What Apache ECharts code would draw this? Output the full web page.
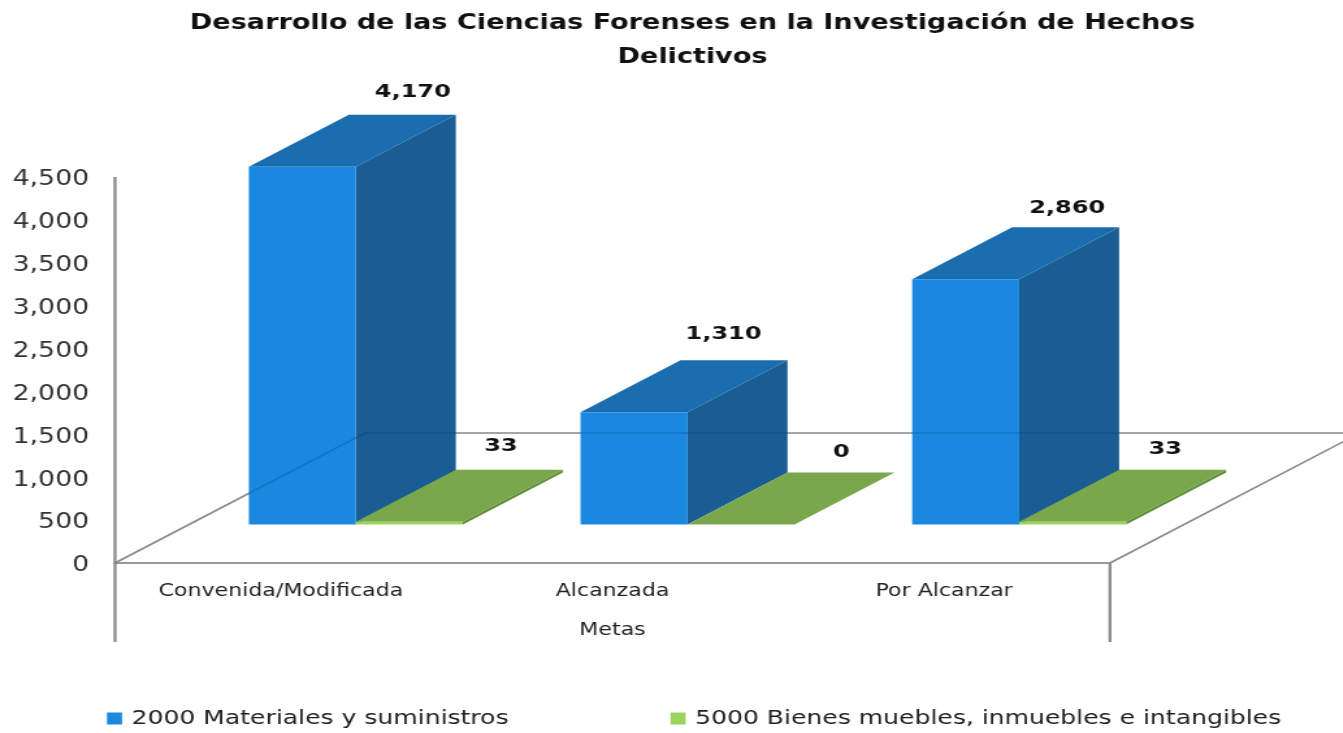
<!DOCTYPE html>
<html><head><meta charset="utf-8">
<style>html,body{margin:0;padding:0;background:#fff;overflow:hidden;width:1343px;height:733px}
#c{height:733px;transform-origin:0 0}</style>
<script src="https://cdn.jsdelivr.net/npm/echarts@6/dist/echarts.min.js"></script>
</head><body><div id="c"></div>
<script>
const categories = ['Convenida/Modificada', 'Alcanzada', 'Por Alcanzar'];
const materiales = [4170, 1310, 2860];
const bienes = [33, 0, 33];
const seriesNames = ['2000 Materiales y suministros', '5000 Bienes muebles, inmuebles e intangibles'];
const yTicks = { min: 0, max: 4500, interval: 500 };
const chartTitle = 'Desarrollo de las Ciencias Forenses en la Investigación de Hechos\nDelictivos';
const xName = 'Metas';

// The reference is a horizontally stretched picture: draw narrow, stretch with CSS.
const K = 1.3;
const X = v => v / K;
const FONT = '"DejaVu Sans"';
const DEPTH_X = X(100), DEPTH_Y = 52, LIFT = 38.5;
const BAR_W = X(107);
const blueNudge = [[57, -23], [36, -26], [48, -19]];
const greenNudge = [[38, -23], [47, -20], [39, -20]];

const el = document.getElementById('c');
el.style.width = X(1343) + 'px';
el.style.transform = 'scaleX(' + K + ')';
const chart = echarts.init(el, null, { renderer: 'canvas' });

function poly(points, fill, stroke) {
  return { type: 'polygon', shape: { points }, style: { fill, stroke: stroke || null, lineWidth: stroke ? 1 : 0 } };
}
function line(x1, y1, x2, y2, stroke, w) {
  return { type: 'line', shape: { x1, y1, x2, y2 }, style: { stroke, lineWidth: w, fill: null } };
}
function bar(params, api, offset, colors, nudge) {
  const i = api.value(0);
  const top = api.coord([i, api.value(1)]);
  const base = api.coord([i, 0]);
  const l = top[0] + X(offset), r = l + BAR_W;
  const yt = top[1] - LIFT, yb = base[1] - LIFT;
  const kids = [];
  kids.push(poly([[r, yt], [r + DEPTH_X, yt - DEPTH_Y], [r + DEPTH_X, yb - DEPTH_Y], [r, yb]], colors.side));
  kids.push(poly([[l, yt], [r, yt], [r + DEPTH_X, yt - DEPTH_Y], [l + DEPTH_X, yt - DEPTH_Y]], colors.top));
  if (yb > yt) kids.push({ type: 'rect', shape: { x: l, y: yt, width: BAR_W, height: yb - yt }, style: { fill: colors.front } });
  const n = nudge[params.dataIndex];
  kids.push({
    type: 'text', x: r + X(n[0]), y: yt - DEPTH_Y + n[1],
    style: { text: api.value(1).toLocaleString('en-US'), fontFamily: FONT, fontWeight: 'bold', fontSize: 18.5, fill: '#111', align: 'center', verticalAlign: 'middle' }
  });
  return { type: 'group', children: kids };
}
function backLines(params, api, color, w) {
  const cs = params.coordSys, o = api.coord([0, 0]);
  const x0 = cs.x, y0 = o[1], x1 = cs.x + cs.width;
  const dx = X(250), dy = 130;
  return [
    line(x0, y0, x0 + dx, y0 - dy, color, w),
    line(x0 + dx, y0 - dy, X(1343), y0 - dy, color, w),
    line(x1, y0, x1 + dx, y0 - dy, color, w)
  ];
}

chart.setOption({
  animation: false,
  backgroundColor: '#fff',
  title: {
    text: chartTitle, left: X(686), top: 2, textAlign: 'center',
    textStyle: { fontFamily: FONT, fontWeight: 'bold', fontSize: 20.8, lineHeight: 34, color: '#111' }
  },
  legend: {
    data: seriesNames, left: X(107), top: 709, padding: 0, icon: 'rect', itemWidth: X(15), itemHeight: 12, itemGap: X(162), selectedMode: false,
    textStyle: { fontFamily: FONT, fontSize: 19.3, color: '#222', padding: [0, 0, 0, X(3)] }
  },
  grid: { left: X(115), top: 177, width: X(995), height: 386 },
  xAxis: {
    type: 'category', data: categories, name: xName, nameLocation: 'middle', nameGap: 59,
    nameTextStyle: { fontFamily: FONT, fontSize: 17, color: '#222' },
    axisTick: { show: false },
    axisLine: { lineStyle: { color: '#999', width: 2 } },
    axisLabel: { margin: 20, fontFamily: FONT, fontSize: 17, color: '#222', interval: 0 }
  },
  yAxis: {
    type: 'value', min: yTicks.min, max: yTicks.max, interval: yTicks.interval,
    splitLine: { show: false }, axisTick: { show: false },
    axisLine: { show: false },
    axisLabel: { margin: X(26), fontFamily: FONT, fontSize: 20.5, color: '#333', verticalAlign: 'top', lineHeight: 6, formatter: v => v.toLocaleString('en-US') }
  },
  series: [
    {
      type: 'custom', name: 'frame', silent: true, z: 1, data: [[0, 0]], encode: { x: 0, y: 1 },
      renderItem: (params, api) => {
        const cs = params.coordSys, o = api.coord([0, 0]);
        return { type: 'group', children: backLines(params, api, '#a6a6a6', 1.6).concat([
          line(cs.x, cs.y, cs.x, 642, '#8c8c8c', X(3)),
          line(cs.x + cs.width, o[1], cs.x + cs.width, 642, '#8c8c8c', X(3))
        ]) };
      }
    },
    {
      type: 'custom', name: seriesNames[0], z: 2, data: materiales.map((v, i) => [i, v]), encode: { x: 0, y: 1 },
      itemStyle: { color: '#1a88e0' },
      renderItem: (p, a) => bar(p, a, -32, { front: '#1a88e0', side: '#1a5d94', top: '#1a6dae' }, blueNudge)
    },
    {
      type: 'custom', name: seriesNames[1], z: 2, data: bienes.map((v, i) => [i, v]), encode: { x: 0, y: 1 },
      itemStyle: { color: '#9bd45c' },
      renderItem: (p, a) => bar(p, a, 75, { front: '#9bd45c', side: '#5f8f38', top: '#7aa74c' }, greenNudge)
    },
    {
      type: 'custom', name: 'frameOverlay', silent: true, z: 3, data: [[0, 0]], encode: { x: 0, y: 1 },
      renderItem: (params, api) => ({ type: 'group', children: backLines(params, api, 'rgba(0,30,60,0.18)', 1.6) })
    }
  ]
});
</script></body></html>
